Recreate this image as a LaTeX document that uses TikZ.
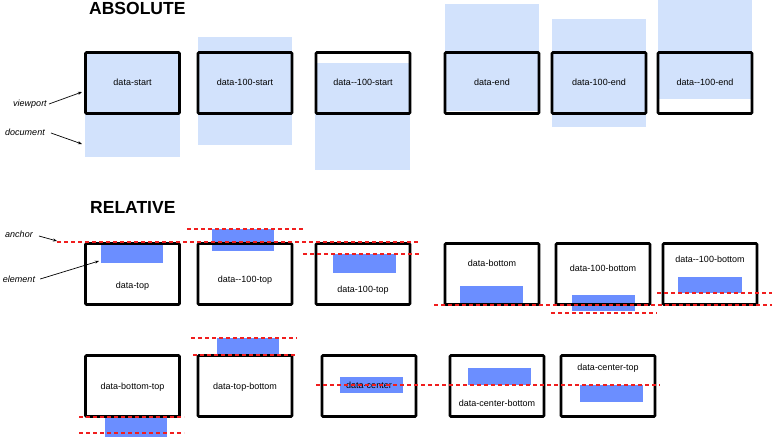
\documentclass[tikz,border=0pt]{standalone}
\usepackage{fontspec}
\setmainfont{Liberation Sans}
\usetikzlibrary{arrows.meta}
\definecolor{docblue}{RGB}{210,226,252}
\definecolor{elblue}{RGB}{107,142,255}
\definecolor{anchred}{RGB}{240,30,30}
\tikzset{
  vp/.style={draw=black, line width=2.8pt, rounded corners=1pt, minimum width=94pt, minimum height=61pt, inner sep=0pt},
  lbl/.style={font=\fontsize{9}{10}\selectfont, inner sep=0pt},
  side/.style={font=\fontsize{9}{10}\selectfont\itshape, inner sep=0pt},
  ttl/.style={font=\fontsize{17.5}{19}\selectfont\bfseries, inner sep=0pt, anchor=west},
  anch/.style={draw=anchred, line width=1.1pt, dash pattern=on 4pt off 3pt},
  ptr/.style={draw=black, line width=0.7pt, -{Stealth[length=4pt,width=3pt]}},
  docfill/.style={fill=docblue},
  elfill/.style={fill=elblue}
}
\begin{document}
\begin{tikzpicture}[x=1pt,y=-1pt]
\useasboundingbox (0,0) rectangle (772,437);
% ---------- ABSOLUTE document fills
\fill[docfill] (85,52) rectangle (180,157);
\fill[docfill] (198,37) rectangle (292,145);
\fill[docfill] (315,63) rectangle (410,170);
\fill[docfill] (445,4) rectangle (539,111);
\fill[docfill] (552,19) rectangle (646,127);
\fill[docfill] (658,0) rectangle (752,99);
% ---------- RELATIVE element fills
\fill[elfill] (101,243) rectangle (163,263);
\fill[elfill] (212,229) rectangle (274,251);
\fill[elfill] (333,254) rectangle (396,273);
\fill[elfill] (460,286) rectangle (523,305);
\fill[elfill] (572,295) rectangle (635,311);
\fill[elfill] (678,277) rectangle (742,293);
\fill[elfill] (105,418) rectangle (167,437);
\fill[elfill] (217,338) rectangle (279,354);
\fill[elfill] (340,377) rectangle (403,393);
\fill[elfill] (468,368) rectangle (531,385);
\fill[elfill] (580,385) rectangle (643,402);
% ---------- titles
\node[ttl] (tabs) at (89,8) {ABSOLUTE};
\node[ttl] (trel) at (90,207) {RELATIVE};
% ---------- viewports, absolute row
\node[vp] (a1) at (132.5,83) {};
\node[vp] (a2) at (245,83) {};
\node[vp] (a3) at (363,83) {};
\node[vp] (a4) at (492,83) {};
\node[vp] (a5) at (599,83) {};
\node[vp] (a6) at (705,83) {};
\node[lbl] (la1) at (132.5,82) {data-start};
\node[lbl] (la2) at (245,82) {data-100-start};
\node[lbl] (la3) at (363,82) {data-{}-100-start};
\node[lbl] (la4) at (492,82) {data-end};
\node[lbl] (la5) at (599,82) {data-100-end};
\node[lbl] (la6) at (705,82) {data-{}-100-end};
% ---------- relative row 1
\node[vp] (b1) at (132.5,274) {};
\node[vp] (b2) at (245,274) {};
\node[vp] (b3) at (363,274) {};
\node[vp] (b4) at (492,274) {};
\node[vp] (b5) at (603,274) {};
\node[vp] (b6) at (710,274) {};
\node[lbl] (lb1) at (132.5,286) {data-top};
\node[lbl] (lb2) at (245,280) {data-{}-100-top};
\node[lbl] (lb3) at (363,290) {data-100-top};
\node[lbl] (lb4) at (492,263) {data-bottom};
\node[lbl] (lb5) at (603,268) {data-100-bottom};
\node[lbl] (lb6) at (710,259) {data-{}-100-bottom};
% ---------- relative row 2
\node[vp] (c1) at (132.5,386) {};
\node[vp] (c2) at (245,386) {};
\node[vp] (c3) at (369,386) {};
\node[vp] (c4) at (497,386) {};
\node[vp] (c5) at (608,386) {};
\node[lbl] (lc1) at (132.5,387) {data-bottom-top};
\node[lbl] (lc2) at (245,387) {data-top-bottom};
\node[lbl] (lc3) at (369,385) {data-center};
\node[lbl] (lc4) at (497,403) {data-center-bottom};
\node[lbl] (lc5) at (608,368) {data-center-top};
% ---------- anchor lines
\coordinate (h1a) at (57,242);  \coordinate (h1b) at (420,242);
\coordinate (h2a) at (187,229); \coordinate (h2b) at (303,229);
\coordinate (h3a) at (303,254); \coordinate (h3b) at (420,254);
\coordinate (h4a) at (434,305); \coordinate (h4b) at (772,305);
\coordinate (h5a) at (551,313); \coordinate (h5b) at (657,313);
\coordinate (h6a) at (657,293); \coordinate (h6b) at (772,293);
\coordinate (h7a) at (79,417);  \coordinate (h7b) at (184,417);
\coordinate (h8a) at (79,433);  \coordinate (h8b) at (184,433);
\coordinate (h9a) at (191,338); \coordinate (h9b) at (297,338);
\coordinate (h10a) at (193,355); \coordinate (h10b) at (297,355);
\coordinate (h11a) at (316,385); \coordinate (h11b) at (660,385);
\foreach \i in {1,...,11} {\draw[anch] (h\i a) -- (h\i b);}
% ---------- side labels and pointers
\node[side] (vpl) at (30,104) {viewport};
\node[side] (docl) at (25,132) {document};
\node[side] (anl) at (19,234) {anchor};
\node[side] (ell) at (19,279) {element};
\coordinate (vpt) at (82,92);
\coordinate (dpt) at (82,144);
\coordinate (apt) at (57,241);
\coordinate (ept) at (99,261);
\draw[ptr] (vpl.east) ++(2,0) -- (vpt);
\draw[ptr] (docl.east) ++(6,1) -- (dpt);
\draw[ptr] (anl.east) ++(6,2) -- (apt);
\draw[ptr] (ell.east) ++(5,0) -- (ept);
\end{tikzpicture}
\end{document}
